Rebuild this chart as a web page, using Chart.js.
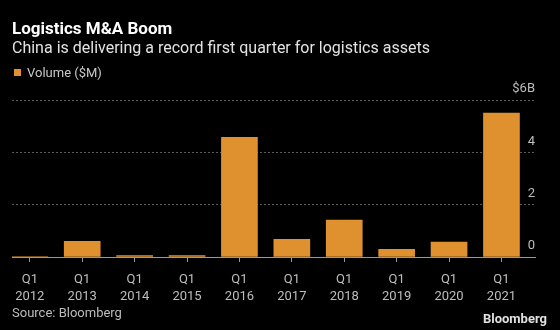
<!DOCTYPE html>
<html>
<head>
<meta charset="utf-8">
<script src="https://cdn.jsdelivr.net/npm/chart.js@4"></script>
<style>
  html, body { margin: 0; padding: 0; background: #000; }
  #wrap { position: relative; width: 560px; height: 330px; overflow: hidden; font-family: Roboto, "Noto Sans", sans-serif; }
  #chart { position: absolute; left: 0; top: 0; }
  .txt { position: absolute; white-space: nowrap; line-height: 1; }
  #title { left: 12px; top: 20px; font-size: 17px; font-weight: bold; color: #fff; }
  #subtitle { left: 12px; top: 40px; font-size: 16px; color: #e2e2e2; }
  #legend { left: 14px; top: 66px; font-size: 13px; color: #c8c8c8; }
  #legend .box { display: inline-block; width: 7px; height: 7px; background: #e0912f; margin-right: 6px; vertical-align: 1px; }
  #source { left: 12px; top: 306px; font-size: 13px; color: #bdbdbd; }
  #logo { right: 13px; top: 312px; font-size: 13px; font-weight: bold; color: #e0e0e0; }
</style>
</head>
<body>
<div id="wrap">
  <canvas id="chart" width="560" height="330"></canvas>
  <div class="txt" id="title">Logistics M&amp;A Boom</div>
  <div class="txt" id="subtitle">China is delivering a record first quarter for logistics assets</div>
  <div class="txt" id="legend"><span class="box"></span>Volume ($M)</div>
  <div class="txt" id="source">Source: Bloomberg</div>
  <div class="txt" id="logo">Bloomberg</div>
</div>
<script>
// Datos del gráfico
const quarters = ['Q1', 'Q1', 'Q1', 'Q1', 'Q1', 'Q1', 'Q1', 'Q1', 'Q1', 'Q1'];
const years = ['2012', '2013', '2014', '2015', '2016', '2017', '2018', '2019', '2020', '2021'];
const volume = [0.02, 0.6, 0.05, 0.05, 4.57, 0.68, 1.41, 0.29, 0.57, 5.5];
const yTicks = [0, 2, 4, 6];

const barColor = '#e0912f';
const gridColor = '#5a5a5a';
const tickColor = '#bdbdbd';

document.addEventListener('DOMContentLoaded', () => {
    const ctx = document.getElementById('chart').getContext('2d');

    new Chart(ctx, {
        type: 'bar',
        data: {
            datasets: [{
                label: 'Volume ($M)',
                data: volume.map((v, i) => ({ x: i, y: v })),
                backgroundColor: barColor,
                borderWidth: 0,
                barThickness: 36
            }]
        },
        options: {
            responsive: false,
            animation: false,
            layout: { padding: { left: 12, right: 25, top: 100, bottom: 0 } },
            plugins: {
                legend: { display: false },
                tooltip: { enabled: false }
            },
            scales: {
                x: {
                    type: 'linear',
                    offset: false,
                    min: -0.34,
                    max: 9.64,
                    afterBuildTicks: axis => { axis.ticks = years.map((_, i) => ({ value: i })); },
                    afterFit: axis => {
                        axis.height = 73;
                        axis.paddingLeft = 0;
                        axis.paddingRight = 0;
                    },
                    grid: {
                        offset: false,
                        drawOnChartArea: false,
                        drawTicks: true,
                        tickLength: 5,
                        color: '#9a9a9a'
                    },
                    border: { display: true, color: '#9a9a9a', width: 1 },
                    ticks: {
                        autoSkip: false,
                        maxRotation: 0,
                        padding: 10,
                        color: tickColor,
                        font: { family: 'Roboto, "Noto Sans", sans-serif', size: 13, lineHeight: 1.25 },
                        callback: value => [quarters[value], years[value]]
                    }
                },
                y: {
                    position: 'right',
                    min: 0,
                    max: 6,
                    afterBuildTicks: axis => { axis.ticks = yTicks.map(v => ({ value: v })); },
                    afterFit: axis => {
                        axis.width = 0;
                        axis.paddingTop = 0;
                        axis.paddingBottom = 0;
                    },
                    grid: {
                        drawTicks: false,
                        color: c => (c.tick && c.tick.value === 0) ? 'rgba(0,0,0,0)' : gridColor
                    },
                    border: { display: false, dash: [2, 2] },
                    ticks: {
                        mirror: true,
                        padding: 0,
                        labelOffset: -11,
                        color: tickColor,
                        font: { family: 'Roboto, "Noto Sans", sans-serif', size: 13 },
                        callback: value => value === 6 ? '$6B' : value
                    }
                }
            }
        }
    });
});
</script>
</body>
</html>
